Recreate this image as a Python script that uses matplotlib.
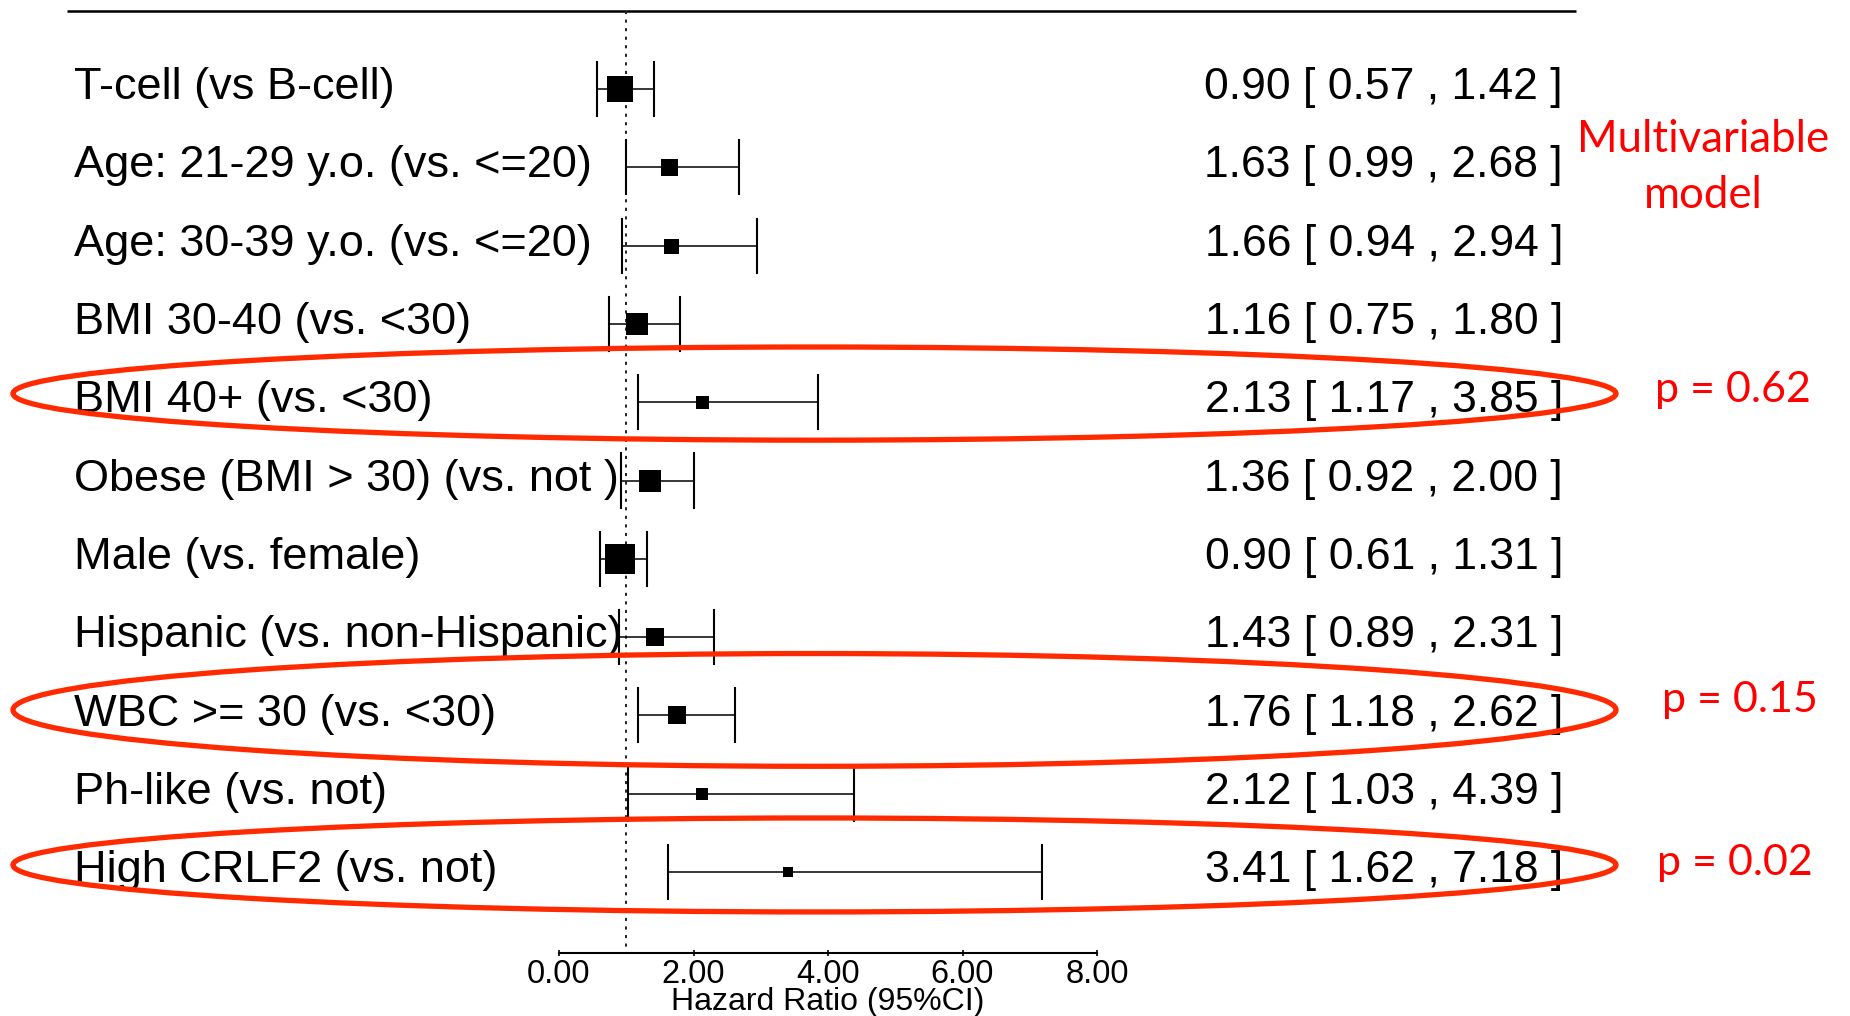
import matplotlib
matplotlib.use("Agg")
import matplotlib.pyplot as plt
from matplotlib.patches import Ellipse

# ---------------- data ----------------
labels = [
    "T-cell (vs B-cell)",
    "Age: 21-29 y.o. (vs. <=20)",
    "Age: 30-39 y.o. (vs. <=20)",
    "BMI 30-40 (vs. <30)",
    "BMI 40+ (vs. <30)",
    "Obese (BMI > 30) (vs. not )",
    "Male (vs. female)",
    "Hispanic (vs. non-Hispanic)",
    "WBC >= 30 (vs. <30)",
    "Ph-like (vs. not)",
    "High CRLF2 (vs. not)",
]
hr = [0.90, 1.63, 1.66, 1.16, 2.13, 1.36, 0.90, 1.43, 1.76, 2.12, 3.41]
ci_low = [0.57, 0.99, 0.94, 0.75, 1.17, 0.92, 0.61, 0.89, 1.18, 1.03, 1.62]
ci_high = [1.42, 2.68, 2.94, 1.80, 3.85, 2.00, 1.31, 2.31, 2.62, 4.39, 7.18]
weights = [1.3, 0.85, 0.75, 1.1, 0.65, 1.1, 1.5, 0.9, 0.9, 0.6, 0.5]  # relative box sizes
xticks = [0, 2, 4, 6, 8]
ref_value = 1.0
highlight_rows = [4, 8, 10]
pvalue_texts = ["p = 0.62", "p = 0.15", "p = 0.02"]
model_text = ["Multivariable", "model"]
xlabel = "Hazard Ratio (95%CI)"

# ---------------- layout (pixel geometry of the canvas) ----------------
W, H, DPI = 1850, 1016, 100
X0_PX, PX_PER_UNIT = 559.0, 67.25      # x=0 location and pixels per HR unit
ROW0_PX, ROW_PX = 89.0, 78.3           # first row centre and row spacing


def px2x(px):
    return (px - X0_PX) / PX_PER_UNIT


def px2y(py):
    return (py - ROW0_PX) / ROW_PX


FONT = "Liberation Sans"
RED_FONT = ["Lato", "DejaVu Sans"]
ELL_COLOR = "#ff2a00"

fig = plt.figure(figsize=(W / DPI, H / DPI), dpi=DPI)
ax = fig.add_axes([0, 0, 1, 1])
ax.set_xlim(px2x(0), px2x(W))
ax.set_ylim(px2y(H), px2y(0))
ax.patch.set_visible(False)
for s in ["top", "left", "right"]:
    ax.spines[s].set_visible(False)

axis_y = px2y(953)
top_y = px2y(11)

# bottom axis (R style, only spanning the ticks)
ax.spines["bottom"].set_position(("data", axis_y))
ax.spines["bottom"].set_bounds(xticks[0], xticks[-1])
ax.spines["bottom"].set_linewidth(1.5)
ax.set_xticks(xticks)
ax.set_xticklabels([f"{t:.2f}" for t in xticks], fontfamily=FONT, fontsize=23.5)
ax.tick_params(axis="x", direction="inout", length=5, width=1.2, pad=1.5)
ax.set_yticks([])

# top rule
ax.plot([px2x(67), px2x(1576)], [top_y, top_y], color="black", lw=1.8,
        solid_capstyle="butt")

# reference line
ax.plot([ref_value, ref_value], [top_y, axis_y], color="#222222", lw=1.4,
        linestyle=(0, (1.6, 2.8)))

cap = 0.345
for i, (lab, m, lo, hi, w) in enumerate(zip(labels, hr, ci_low, ci_high, weights)):
    ax.plot([lo, hi], [i, i], color="black", lw=1.1, zorder=3)
    ax.plot([lo, lo], [i - cap, i + cap], color="black", lw=1.5, zorder=3)
    ax.plot([hi, hi], [i - cap, i + cap], color="black", lw=1.5, zorder=3)
    ax.plot([m], [i], marker="s", markersize=20 * w * 72 / DPI, color="black",
            markeredgewidth=0, zorder=4)
    ax.text(px2x(74), i + 0.13, lab, ha="left", va="baseline",
            fontfamily=FONT, fontsize=32.5)
    ax.text(px2x(1563), i + 0.13, f"{m:.2f} [ {lo:.2f} , {hi:.2f} ]",
            ha="right", va="baseline", fontfamily=FONT, fontsize=32)

ax.text(4, px2y(1010), xlabel, ha="center", va="baseline",
        fontfamily=FONT, fontsize=23)

# red annotations
ell_offsets = [-0.11, -0.07, -0.09]
ell_heights = [1.19, 1.44, 1.20]
p_x_px = [1655, 1662, 1657]
p_dy = [0.0, -0.04, 0.04]
for r, off, eh, ptxt, pxx, dy in zip(highlight_rows, ell_offsets, ell_heights,
                                      pvalue_texts, p_x_px, p_dy):
    e = Ellipse((px2x(814.5), r + off), width=1603 / PX_PER_UNIT, height=eh,
                fill=False, edgecolor=ELL_COLOR, lw=3.8, zorder=6)
    ax.add_patch(e)
    ax.text(px2x(pxx), r + dy, ptxt, ha="left", va="baseline",
            color="red", fontfamily=RED_FONT, fontsize=31)

ax.text(px2x(1703), px2y(152), model_text[0], ha="center", va="baseline",
        color="red", fontfamily=RED_FONT, fontsize=31.5)
ax.text(px2x(1703), px2y(208), model_text[1], ha="center", va="baseline",
        color="red", fontfamily=RED_FONT, fontsize=31.5)

fig.savefig("out.png", dpi=DPI)
